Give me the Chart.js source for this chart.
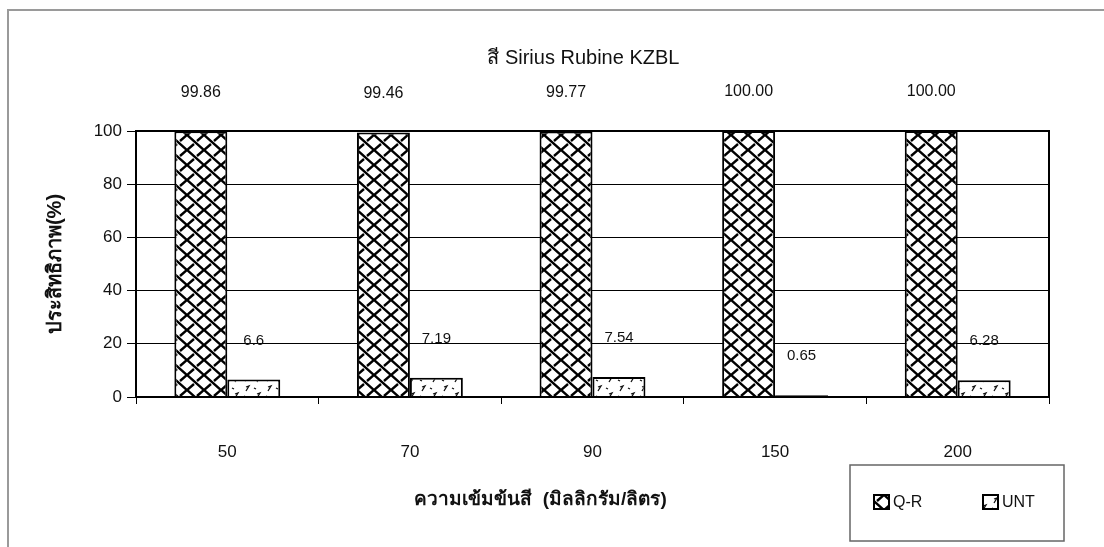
<!DOCTYPE html>
<html>
<head>
<meta charset="utf-8">
<script src="https://cdn.jsdelivr.net/npm/chart.js@4"></script>
<style>
  html, body { margin: 0; padding: 0; background: #fff; }
  #wrap { width: 1104px; height: 547px; position: relative; }
</style>
</head>
<body>
<div id="wrap"><canvas id="c" width="1104" height="547"></canvas></div>
<script>
var categories = ['50', '70', '90', '150', '200'];
var qrValues = [99.86, 99.46, 99.77, 100.00, 100.00];
var untValues = [6.6, 7.19, 7.54, 0.65, 6.28];
var qrLabels = ['99.86', '99.46', '99.77', '100.00', '100.00'];
var untLabels = ['6.6', '7.19', '7.54', '0.65', '6.28'];
var yTicks = [0, 20, 40, 60, 80, 100];

var chartTitle = 'สี Sirius Rubine KZBL';
var xTitle = 'ความเข้มข้นสี  (มิลลิกรัม/ลิตร)';
var yTitle = 'ประสิทธิภาพ(%)';

var FONT = "Arial, 'Liberation Sans', 'Noto Sans', sans-serif";

// woven crosshatch fill for Q-R
var makeWeave = () => {
    var t = document.createElement('canvas');
    t.width = 17; t.height = 15;
    var g = t.getContext('2d');
    g.fillStyle = '#fff';
    g.fillRect(0, 0, 17, 15);
    g.strokeStyle = '#000';
    g.lineWidth = 2.4;
    g.beginPath();
    g.moveTo(-1, -1); g.lineTo(18, 16);
    g.moveTo(18, -1); g.lineTo(10, 6);
    g.moveTo(7, 9); g.lineTo(-1, 16);
    g.stroke();
    return g.createPattern(t, 'repeat');
};

// sparse confetti fill for UNT
var makeConfetti = () => {
    var t = document.createElement('canvas');
    t.width = 22; t.height = 16;
    var g = t.getContext('2d');
    g.fillStyle = '#fff';
    g.fillRect(0, 0, 22, 16);
    g.strokeStyle = '#111';
    g.lineWidth = 1.3;
    g.beginPath();
    g.moveTo(4, 3); g.lineTo(7, 2); g.lineTo(4, 7);
    g.moveTo(15, 10); g.lineTo(18, 9); g.lineTo(15, 14);
    g.moveTo(12, 4); g.lineTo(14, 5);
    g.moveTo(2, 12); g.lineTo(4, 13);
    g.stroke();
    return g.createPattern(t, 'repeat');
};

var weave = makeWeave();
var confetti = makeConfetti();

// outer frame, plot frame, titles, value labels and legend box
var decor = {
    id: 'decor',
    beforeDraw(chart) {
        var ctx = chart.ctx;
        ctx.save();
        ctx.fillStyle = '#fff';
        ctx.fillRect(0, 0, chart.width, chart.height);
        ctx.strokeStyle = '#9a9a9a';
        ctx.lineWidth = 2;
        ctx.beginPath();
        ctx.moveTo(8, chart.height);
        ctx.lineTo(8, 10);
        ctx.lineTo(chart.width, 10);
        ctx.stroke();
        ctx.restore();
    },
    afterDatasetsDraw(chart) {
        var ctx = chart.ctx;
        var a = chart.chartArea;
        var w = a.right - a.left;
        ctx.save();
        ctx.strokeStyle = '#000';
        ctx.lineWidth = 2;
        ctx.strokeRect(a.left, a.top, w, a.bottom - a.top);

        ctx.fillStyle = '#111';
        ctx.textAlign = 'center';
        ctx.textBaseline = 'middle';

        // chart title
        ctx.font = '20px ' + FONT;
        ctx.fillText(chartTitle, a.left + w * 0.49, 58);

        var texts = [qrLabels, untLabels];
        chart.data.datasets.forEach((ds, di) => {
            var meta = chart.getDatasetMeta(di);
            ctx.font = di === 0 ? '16px ' + FONT : '15px ' + FONT;
            meta.data.forEach((bar, i) => {
                ctx.fillText(texts[di][i], bar.x, bar.y - 39);
            });
        });

        // x axis title
        ctx.font = 'bold 19px ' + FONT;
        ctx.fillText(xTitle, a.left + w * 0.443, 500);

        // legend
        var lx = 850, ly = 465, lw = 214, lh = 76;
        ctx.strokeStyle = '#666';
        ctx.lineWidth = 1.5;
        ctx.strokeRect(lx, ly, lw, lh);
        var items = [{x: 874, ds: chart.data.datasets[0]}, {x: 983, ds: chart.data.datasets[1]}];
        items.forEach(it => {
            ctx.fillStyle = it.ds.backgroundColor;
            ctx.fillRect(it.x, ly + 30, 15, 14);
            ctx.strokeStyle = '#000';
            ctx.lineWidth = 2;
            ctx.strokeRect(it.x, ly + 30, 15, 14);
            ctx.fillStyle = '#111';
            ctx.font = '16px ' + FONT;
            ctx.textAlign = 'left';
            ctx.fillText(it.ds.label, it.x + 19, ly + 38);
        });
        ctx.restore();
    }
};

var data = {
    labels: categories,
    datasets: [
        {
            label: 'Q-R',
            data: qrValues,
            backgroundColor: weave,
            borderColor: '#000',
            borderWidth: 2,
            barPercentage: 1.0,
            categoryPercentage: 0.58,
        },
        {
            label: 'UNT',
            data: untValues,
            backgroundColor: confetti,
            borderColor: '#000',
            borderWidth: 2,
            barPercentage: 1.0,
            categoryPercentage: 0.58,
        },
    ]
};

var config = {
    type: 'bar',
    data: data,
    options: {
        responsive: false,
        animation: false,
        layout: { padding: { left: 0, right: 55, top: 131, bottom: 0 } },
        plugins: {
            legend: { display: false },
            tooltip: { enabled: false },
            title: { display: false },
        },
        scales: {
            x: {
                grid: {
                    offset: true,
                    drawOnChartArea: false,
                    drawTicks: true,
                    tickLength: 7,
                    color: '#000',
                    lineWidth: 1,
                },
                border: { display: true, color: '#000', width: 2 },
                ticks: {
                    color: '#111',
                    font: { family: FONT, size: 17 },
                    padding: 38,
                },
                afterFit(scale) { scale.height = 150; },
            },
            y: {
                min: 0,
                max: 100,
                afterBuildTicks(scale) { scale.ticks = yTicks.map(v => ({value: v})); },
                grid: {
                    color: '#000',
                    lineWidth: 1,
                    tickLength: 9,
                },
                border: { display: true, color: '#000', width: 2 },
                ticks: {
                    color: '#111',
                    font: { family: FONT, size: 17 },
                    padding: 5,
                },
                title: {
                    display: true,
                    text: yTitle,
                    color: '#111',
                    font: { family: FONT, size: 20, weight: 'bold' },
                    padding: { top: 43, bottom: 0 },
                },
                afterFit(scale) { scale.width = 136; },
            },
        },
    },
    plugins: [decor],
};

var myChart = new Chart(document.getElementById('c'), config);
</script>
</body>
</html>
